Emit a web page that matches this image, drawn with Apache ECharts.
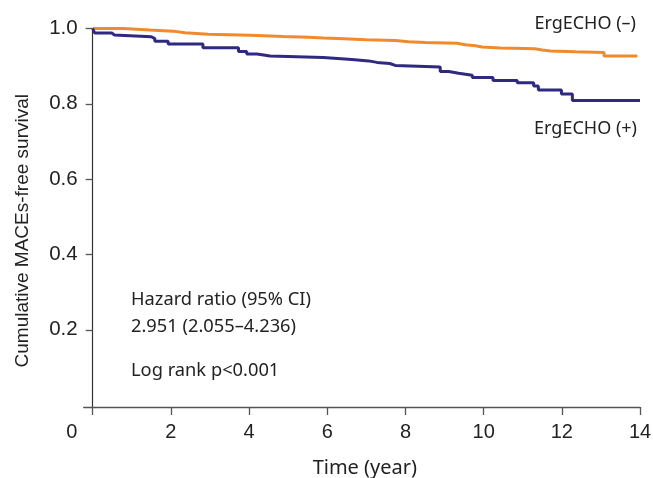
<!DOCTYPE html>
<html>
<head>
<meta charset="utf-8">
<title>Cumulative MACEs-free survival</title>
<script src="https://cdn.jsdelivr.net/npm/echarts@6/dist/echarts.min.js"></script>
<style>
  html, body { margin: 0; padding: 0; background: #fff; }
  #chart { width: 653px; height: 478px; }
</style>
</head>
<body>
<div id="chart"></div>
<script>
// Kaplan-Meier steps (time in years, survival fraction)
const negTimes = [0, 0.78, 1.46, 2.06, 2.36, 2.95, 4.03, 4.88, 5.52, 5.91, 6.42, 7.0, 7.74, 8.08, 8.51, 9.32, 9.53, 9.79, 9.96, 10.43, 11.31, 11.5, 11.71, 12.35, 13.08, 13.93];
const negSurv = [1.0, 0.996, 0.993, 0.989, 0.985, 0.982, 0.979, 0.977, 0.975, 0.973, 0.97, 0.968, 0.965, 0.963, 0.961, 0.957, 0.954, 0.951, 0.948, 0.946, 0.943, 0.94, 0.938, 0.936, 0.927, 0.927];

const posTimes = [0, 0.05, 0.49, 0.55, 1.5, 1.59, 1.93, 2.82, 3.73, 3.94, 4.2, 4.54, 5.9, 6.63, 7.06, 7.27, 7.6, 7.74, 8.89, 9.11, 9.36, 9.71, 10.24, 10.86, 11.28, 11.4, 11.99, 12.27, 14];
const posSurv = [1.0, 0.988, 0.983, 0.978, 0.973, 0.966, 0.959, 0.949, 0.939, 0.932, 0.927, 0.923, 0.918, 0.914, 0.91, 0.907, 0.902, 0.898, 0.886, 0.881, 0.876, 0.87, 0.862, 0.856, 0.847, 0.837, 0.826, 0.809, 0.809];

const xTicks = [0, 2, 4, 6, 8, 10, 12, 14];
const yTicks = [0.2, 0.4, 0.6, 0.8, 1.0];

const seriesNames = ["ErgECHO (\u2013)", "ErgECHO (+)"];
const noteLines = ["Hazard ratio (95% CI)", "2.951 (2.055\u20134.236)", "Log rank p<0.001"];

const chart = echarts.init(document.getElementById("chart"));

const labelFont = "'Liberation Sans', Arial, sans-serif";
const textFont = "'Noto Sans', 'Open Sans', sans-serif";

const option = {
  animation: false,
  grid: { left: 83.7, right: 13, top: 28.5, bottom: 71, outerBoundsMode: "none" },
  xAxis: {
    type: "value",
    min: -0.23,
    max: 14,
    name: "Time (year)",
    nameLocation: "middle",
    nameGap: 51,
    nameTextStyle: { fontFamily: textFont, fontSize: 20, color: "#222", padding: [0, 0, 0, 6] },
    splitLine: { show: false },
    axisLine: { onZero: false, lineStyle: { color: "#555", width: 1.3 } },
    axisTick: { customValues: xTicks, length: 8, lineStyle: { color: "#555", width: 1.3 } },
    axisLabel: {
      customValues: xTicks,
      margin: 15,
      fontFamily: labelFont,
      fontSize: 20,
      color: "#222",
      // the origin label sits left of the corner in the original
      formatter: (v) => (v === 0 ? "{z|0}" : String(v)),
      rich: {
        z: { fontFamily: labelFont, fontSize: 20, color: "#222", padding: [0, 42, 0, 0] },
      },
    },
  },
  yAxis: {
    type: "value",
    min: -0.005,
    max: 1.0,
    name: "Cumulative MACEs-free survival",
    nameLocation: "middle",
    nameGap: 51,
    nameTextStyle: { fontFamily: labelFont, fontSize: 19, color: "#222", padding: [0, 26, 0, 0] },
    splitLine: { show: false },
    axisLine: { onZero: true, lineStyle: { color: "#333", width: 1.2 } },
    axisTick: { customValues: yTicks, length: 7, lineStyle: { color: "#555", width: 1.3 } },
    axisLabel: {
      customValues: yTicks,
      margin: 6,
      fontFamily: labelFont,
      fontSize: 20.5,
      color: "#222",
      formatter: (v) => v.toFixed(1),
    },
  },
  series: [
    {
      name: seriesNames[0],
      type: "line",
      step: "end",
      symbol: "none",
      lineStyle: { color: "#f18a2d", width: 3 },
      data: negTimes.map((t, i) => [t, negSurv[i]]),
    },
    {
      name: seriesNames[1],
      type: "line",
      step: "end",
      symbol: "none",
      lineStyle: { color: "#2f2a80", width: 3 },
      data: posTimes.map((t, i) => [t, posSurv[i]]),
    },
  ],
  graphic: [
    {
      type: "text",
      x: 636,
      y: 24,
      style: { text: seriesNames[0], align: "right", verticalAlign: "middle", font: "18px " + textFont, fill: "#222" },
    },
    {
      type: "text",
      x: 637,
      y: 129,
      style: { text: seriesNames[1], align: "right", verticalAlign: "middle", font: "18px " + textFont, fill: "#222" },
    },
    {
      type: "text",
      x: 131,
      y: 300,
      style: { text: noteLines[0], verticalAlign: "middle", font: "18.3px " + textFont, fill: "#222" },
    },
    {
      type: "text",
      x: 131,
      y: 327,
      style: { text: noteLines[1], verticalAlign: "middle", font: "18.3px " + textFont, fill: "#222" },
    },
    {
      type: "text",
      x: 131,
      y: 371,
      style: { text: noteLines[2], verticalAlign: "middle", font: "18.3px " + textFont, fill: "#222" },
    },
  ],
};

chart.setOption(option);
</script>
</body>
</html>
